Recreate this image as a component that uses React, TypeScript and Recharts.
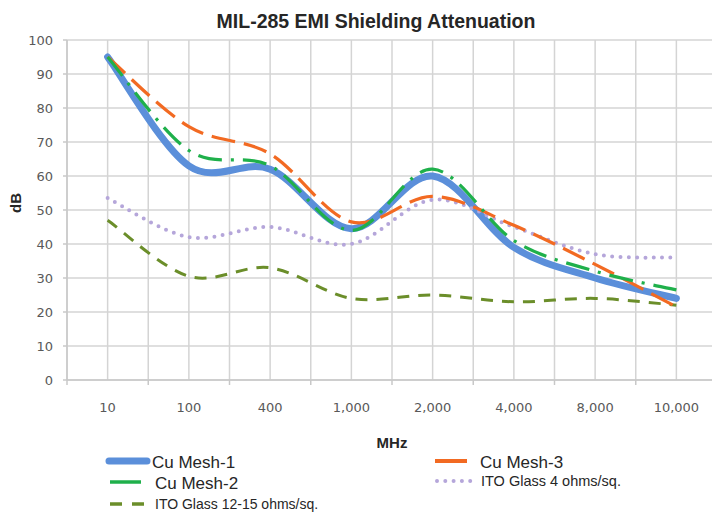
import React from 'react';
import { LineChart, Line, XAxis, YAxis, CartesianGrid, Legend } from 'recharts';

const CATEGORIES = ['10', '100', '400', '1,000', '2,000', '4,000', '8,000', '10,000'];
const CU_MESH_1 = [95, 63, 62, 44.5, 60, 39, 30, 24];
const CU_MESH_2 = [95, 67.5, 63, 44, 62, 41, 32, 26.5];
const CU_MESH_3 = [95, 74.5, 66.5, 46.5, 54, 45.5, 34, 21.5];
const ITO_GLASS_4 = [53.5, 42, 45, 40, 53, 45, 37, 36];
const ITO_GLASS_12_15 = [47, 30.5, 33, 24, 25, 23, 24, 22];
const Y_TICKS = [0, 10, 20, 30, 40, 50, 60, 70, 80, 90, 100];

const SERIES = [
  { key: 'm1', name: 'Cu Mesh-1', values: CU_MESH_1, color: '#5B8FDA', width: 7, dash: undefined as string | undefined, cap: 'round' },
  { key: 'i4', name: 'ITO Glass 4 ohms/sq.', values: ITO_GLASS_4, color: '#B5A6DA', width: 4, dash: '0 8.3', cap: 'round' },
  { key: 'i12', name: 'ITO Glass 12-15 ohms/sq.', values: ITO_GLASS_12_15, color: '#6B8E2A', width: 3, dash: '12 9', cap: 'butt' },
  { key: 'm3', name: 'Cu Mesh-3', values: CU_MESH_3, color: '#F26A22', width: 3.2, dash: '24 9', cap: 'butt' },
  { key: 'm2', name: 'Cu Mesh-2', values: CU_MESH_2, color: '#1FB04B', width: 3.2, dash: '24 9 3 9', cap: 'butt' },
];

const data = CATEGORIES.map((c, i) => {
  const row: any = { x: i, label: c };
  SERIES.forEach((s) => { row[s.key] = s.values[i]; });
  return row;
});

const X_TICKS = Array.from({ length: CATEGORIES.length * 2 + 1 }, (_, i) => i / 2 - 0.5);

// Excel-like smoothed line (Catmull-Rom style Bezier)
function excelCurve(context: any) {
  let xs: number[] = [];
  let ys: number[] = [];
  return {
    areaStart() {},
    areaEnd() {},
    lineStart() { xs = []; ys = []; },
    point(x: number, y: number) { xs.push(+x); ys.push(+y); },
    lineEnd() {
      const n = xs.length;
      if (!n) return;
      context.moveTo(xs[0], ys[0]);
      if (n === 2) { context.lineTo(xs[1], ys[1]); return; }
      for (let i = 0; i < n - 1; i++) {
        const i0 = Math.max(i - 1, 0);
        const i3 = Math.min(i + 2, n - 1);
        const c1x = xs[i] + (xs[i + 1] - xs[i0]) / 6;
        const c1y = ys[i] + (ys[i + 1] - ys[i0]) / 6;
        const c2x = xs[i + 1] - (xs[i3] - xs[i]) / 6;
        const c2y = ys[i + 1] - (ys[i3] - ys[i]) / 6;
        context.bezierCurveTo(c1x, c1y, c2x, c2y, xs[i + 1], ys[i + 1]);
      }
    },
  };
}

const AXIS_GRAY = '#C8C8C8';
const GRID_GRAY = '#D4D4D4';
const LABEL_COLOR = '#595959';
const FONT = '"DejaVu Sans", sans-serif';
const SANS = '"Liberation Sans", Arial, sans-serif';

const XTick = (props: any) => {
  const { x, y, payload } = props;
  const v = payload.value as number;
  const idx = Math.round(v);
  if (Math.abs(v - idx) > 0.01) {
    return <line x1={x} x2={x} y1={y - 5} y2={y} stroke={AXIS_GRAY} strokeWidth={1.5} />;
  }
  return (
    <text x={x} y={y + 27} textAnchor="middle" fill={LABEL_COLOR} fontSize={13} fontFamily={FONT}>
      {CATEGORIES[idx]}
    </text>
  );
};

const LegendContent = () => {
  const find = (k: string) => SERIES.find((s) => s.key === k)!;
  const m1 = find('m1'), m2 = find('m2'), m3 = find('m3'), i4 = find('i4'), i12 = find('i12');
  return (
    <svg width={712} height={65} style={{ display: 'block' }}>
      <line x1={109} x2={147} y1={13} y2={13} stroke={m1.color} strokeWidth={7} strokeLinecap="round" />
      <text x={152} y={20} fontSize={17} fontFamily={SANS} fill="#262626">{m1.name}</text>
      <line x1={110} x2={141} y1={34} y2={34} stroke={m2.color} strokeWidth={3.5} />
      <text x={155} y={41} fontSize={17} fontFamily={SANS} fill="#262626">{m2.name}</text>
      <line x1={110} x2={144} y1={56} y2={56} stroke={i12.color} strokeWidth={3.5} strokeDasharray="12 10" />
      <text x={155} y={61} fontSize={14} fontFamily={SANS} fill="#262626">{i12.name}</text>
      <line x1={435} x2={467} y1={13} y2={13} stroke={m3.color} strokeWidth={4} />
      <text x={480} y={20} fontSize={17} fontFamily={SANS} fill="#262626">{m3.name}</text>
      <line x1={437} x2={476} y1={33} y2={33} stroke={i4.color} strokeWidth={4} strokeDasharray="0 8.3" strokeLinecap="round" />
      <text x={481} y={38} fontSize={14.5} fontFamily={SANS} fill="#262626">{i4.name}</text>
    </svg>
  );
};

export default function App() {
  return (
    <div style={{ position: 'absolute', left: 0, top: 0, width: 712, height: 513, overflow: 'hidden', background: '#fff' }}>
      <LineChart width={730} height={513} data={data} margin={{ top: 40, right: 13, bottom: 65, left: 0 }}>
        <CartesianGrid stroke={GRID_GRAY} strokeWidth={1.5} />
        <XAxis
          dataKey="x"
          type="number"
          domain={[-0.5, CATEGORIES.length - 0.5]}
          ticks={X_TICKS}
          interval={0}
          allowDataOverflow
          height={68}
          tickSize={5}
          tickMargin={0}
          tickLine={false}
          tick={<XTick />}
          stroke={AXIS_GRAY}
          strokeWidth={1.5}
          label={{ value: 'MHz', position: 'insideBottom', offset: 0, style: { fontWeight: 'bold', fontSize: 15, fontFamily: SANS, fill: '#262626' } }}
        />
        <YAxis
          domain={[0, 100]}
          ticks={Y_TICKS}
          interval={0}
          width={67}
          tickSize={4}
          tickMargin={10}
          stroke={AXIS_GRAY}
          strokeWidth={1.5}
          tick={{ fill: LABEL_COLOR, fontSize: 13, fontFamily: FONT }}
          label={{
            content: (p: any) => {
              const vb = p.viewBox || { y: 40, height: 340 };
              return (
                <text
                  transform={`translate(21, ${vb.y + vb.height / 2 - 7}) rotate(-90)`}
                  textAnchor="middle"
                  fontSize={15}
                  fontWeight="bold"
                  fontFamily={SANS}
                  fill="#262626"
                >
                  dB
                </text>
              );
            },
          }}
        />
        <Legend verticalAlign="middle" align="center" layout="horizontal" content={<LegendContent />} wrapperStyle={{ left: 0, top: 448, width: 712, height: 65 }} />
        {SERIES.map((s) => (
          <Line
            key={s.key}
            dataKey={s.key}
            name={s.name}
            type={excelCurve as any}
            stroke={s.color}
            strokeWidth={s.width}
            strokeDasharray={s.dash}
            strokeLinecap={s.cap as any}
            dot={false}
            activeDot={false}
            isAnimationActive={false}
          />
        ))}
      </LineChart>
      <svg width={712} height={40} style={{ position: 'absolute', left: 0, top: 0, pointerEvents: 'none' }}>
        <text x={376} y={28} textAnchor="middle" fontSize={19.5} fontWeight="bold" fontFamily={SANS} fill="#262626">
          MIL-285 EMI Shielding Attenuation
        </text>
      </svg>
    </div>
  );
}
